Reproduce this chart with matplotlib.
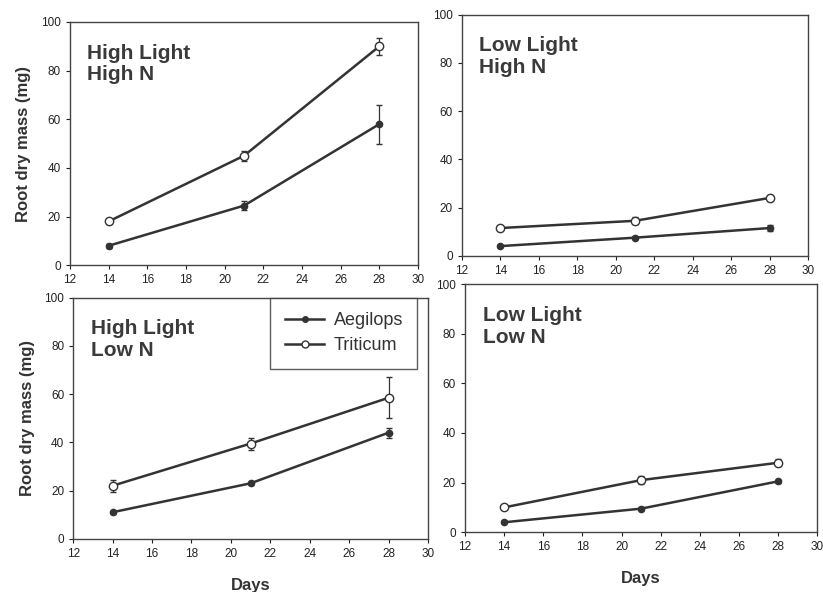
import matplotlib.pyplot as plt
from matplotlib.lines import Line2D

# data
days = [14, 21, 28]

hlhn_aeg = [8, 24.5, 58]
hlhn_aeg_err = [0.8, 2, 8]
hlhn_tri = [18, 45, 90]
hlhn_tri_err = [1.2, 2, 3.5]

llhn_aeg = [4, 7.5, 11.5]
llhn_aeg_err = [0.5, 0.6, 1.2]
llhn_tri = [11.5, 14.5, 24]
llhn_tri_err = [0.6, 1.5, 1.2]

hlln_aeg = [11, 23, 44]
hlln_aeg_err = [0.6, 0.6, 2]
hlln_tri = [22, 39.5, 58.5]
hlln_tri_err = [2.5, 2.5, 8.5]

llln_aeg = [4, 9.5, 20.5]
llln_aeg_err = [0.4, 0.5, 0.6]
llln_tri = [10, 21, 28]
llln_tri_err = [0.6, 1.5, 1.5]

titles = ['High Light\nHigh N', 'Low Light\nHigh N', 'High Light\nLow N', 'Low Light\nLow N']

fig = plt.figure(figsize=(8.23, 5.92), dpi=100)
plt.rcParams['font.family'] = ['Liberation Sans', 'DejaVu Sans']

lc = '#333333'
rects = [
    [0.085, 0.552, 0.423, 0.411],
    [0.561, 0.568, 0.421, 0.407],
    [0.089, 0.090, 0.431, 0.407],
    [0.565, 0.101, 0.428, 0.419],
]
panels = [
    (hlhn_aeg, hlhn_aeg_err, hlhn_tri, hlhn_tri_err),
    (llhn_aeg, llhn_aeg_err, llhn_tri, llhn_tri_err),
    (hlln_aeg, hlln_aeg_err, hlln_tri, hlln_tri_err),
    (llln_aeg, llln_aeg_err, llln_tri, llln_tri_err),
]

for i, (rect, (a, ae, t, te)) in enumerate(zip(rects, panels)):
    ax = fig.add_axes(rect)
    ax.errorbar(days, a, yerr=ae, color=lc, lw=1.8, marker='o', ms=4.5,
                mfc=lc, mec=lc, ecolor=lc, elinewidth=0.9, capsize=2.5)
    ax.errorbar(days, t, yerr=te, color=lc, lw=1.8, marker='o', ms=6,
                mfc='white', mec=lc, ecolor=lc, elinewidth=0.9, capsize=2.5)
    ax.set_xlim(12, 30)
    ax.set_ylim(0, 100)
    ax.set_xticks(range(12, 31, 2))
    ax.set_yticks(range(0, 101, 20))
    ax.tick_params(direction='out', length=3, labelsize=8.5, colors='#222222')
    for s in ax.spines.values():
        s.set_color('#444444')
        s.set_linewidth(1.0)
    ax.text(0.05, 0.91, titles[i], transform=ax.transAxes, fontsize=15,
            fontweight='bold', color='#3a3a3a', va='top', linespacing=1.15)
    if i in (0, 2):
        ax.set_ylabel('Root dry mass (mg)', fontsize=12, fontweight='bold',
                      color='#333333', labelpad=7)
    if i in (2, 3):
        ax.set_xlabel('Days', fontsize=12, fontweight='bold', color='#333333',
                      labelpad=13)
    if i == 2:
        handles = [
            Line2D([], [], color=lc, lw=1.8, marker='o', ms=4, mfc=lc, mec=lc),
            Line2D([], [], color=lc, lw=1.8, marker='o', ms=5, mfc='white', mec=lc),
        ]
        leg = ax.legend(handles, ['Aegilops', 'Triticum'], loc='upper right',
                        bbox_to_anchor=(0.97, 1.0),
                        fontsize=13, frameon=True, fancybox=False,
                        edgecolor='#333333', handlelength=2.2,
                        handletextpad=0.5, borderpad=0.8,
                        labelspacing=0.45, borderaxespad=0.0)
        leg.get_frame().set_linewidth(1.0)
        for txt in leg.get_texts():
            txt.set_color('#333333')

plt.savefig('out.png', dpi=100)
